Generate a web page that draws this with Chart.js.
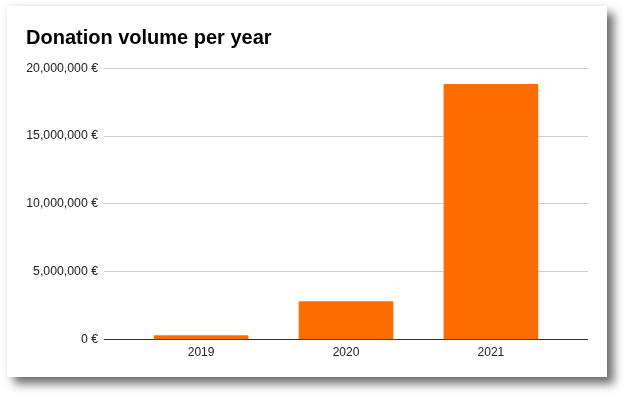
<!DOCTYPE html>
<html>
<head>
    <script src="https://cdn.jsdelivr.net/npm/chart.js@4"></script>
    <style>
        body {
            margin: 0;
            background-color: #ffffff;
            font-family: "Liberation Sans", Arial, sans-serif;
        }
        .card {
            position: absolute;
            left: 7px;
            top: 6px;
            width: 600px;
            height: 371px;
            background: #ffffff;
            box-shadow: 7px 7px 9px rgba(0, 0, 0, 0.55), 0 0 6px rgba(0, 0, 0, 0.08);
        }
        #donations {
            display: block;
        }
    </style>
</head>
<body>
    <div class="card">
        <canvas id="donations" width="600" height="371"></canvas>
    </div>
    <script>
        // values
        var years = ['2019', '2020', '2021'];
        var donations = [300000, 2800000, 18820000];
        var yTicks = [0, 5000000, 10000000, 15000000, 20000000];

        var FONT = '"Liberation Sans", Arial, sans-serif';

        var ctx = document.getElementById('donations').getContext('2d');
        var chart = new Chart(ctx, {
            type: 'bar',
            data: {
                datasets: [{
                    label: 'Donations',
                    data: years.map(function (y, i) { return { x: i, y: donations[i] }; }),
                    backgroundColor: '#ff6d01',
                    barThickness: 94,
                    borderRadius: { topLeft: 1, topRight: 1 },
                    borderSkipped: 'bottom'
                }]
            },
            options: {
                responsive: false,
                animation: false,
                layout: {
                    padding: { left: 19, right: 19, top: 9, bottom: 11 }
                },
                scales: {
                    x: {
                        type: 'linear',
                        offset: false,
                        min: -0.67,
                        max: 2.67,
                        afterBuildTicks: function (scale) {
                            scale.ticks = years.map(function (y, i) { return { value: i }; });
                        },
                        grid: { display: false, drawTicks: false },
                        border: { display: false },
                        ticks: {
                            padding: 6,
                            color: '#222222',
                            font: { family: FONT, size: 12 },
                            callback: function (value) { return years[value]; }
                        }
                    },
                    y: {
                        min: 0,
                        max: 20000000,
                        afterBuildTicks: function (scale) {
                            scale.ticks = yTicks.map(function (v) { return { value: v }; });
                        },
                        afterFit: function (scale) {
                            scale.width = 78; // fixed label column
                        },
                        grid: {
                            drawTicks: false,
                            color: function (c) { return c.tick && c.tick.value === 0 ? '#333333' : '#cccccc'; }
                        },
                        border: { display: false },
                        ticks: {
                            padding: 6,
                            color: '#222222',
                            font: { family: FONT, size: 12.3 },
                            callback: function (value) { return value.toLocaleString('en-US') + ' €'; }
                        }
                    }
                },
                plugins: {
                    legend: { display: false },
                    tooltip: { enabled: false },
                    title: {
                        display: true,
                        text: 'Donation volume per year',
                        align: 'start',
                        color: '#000000',
                        font: { family: FONT, size: 20, weight: 'bold' },
                        padding: { top: 11, bottom: 18.2 }
                    }
                }
            }
        });
    </script>
</body>
</html>
